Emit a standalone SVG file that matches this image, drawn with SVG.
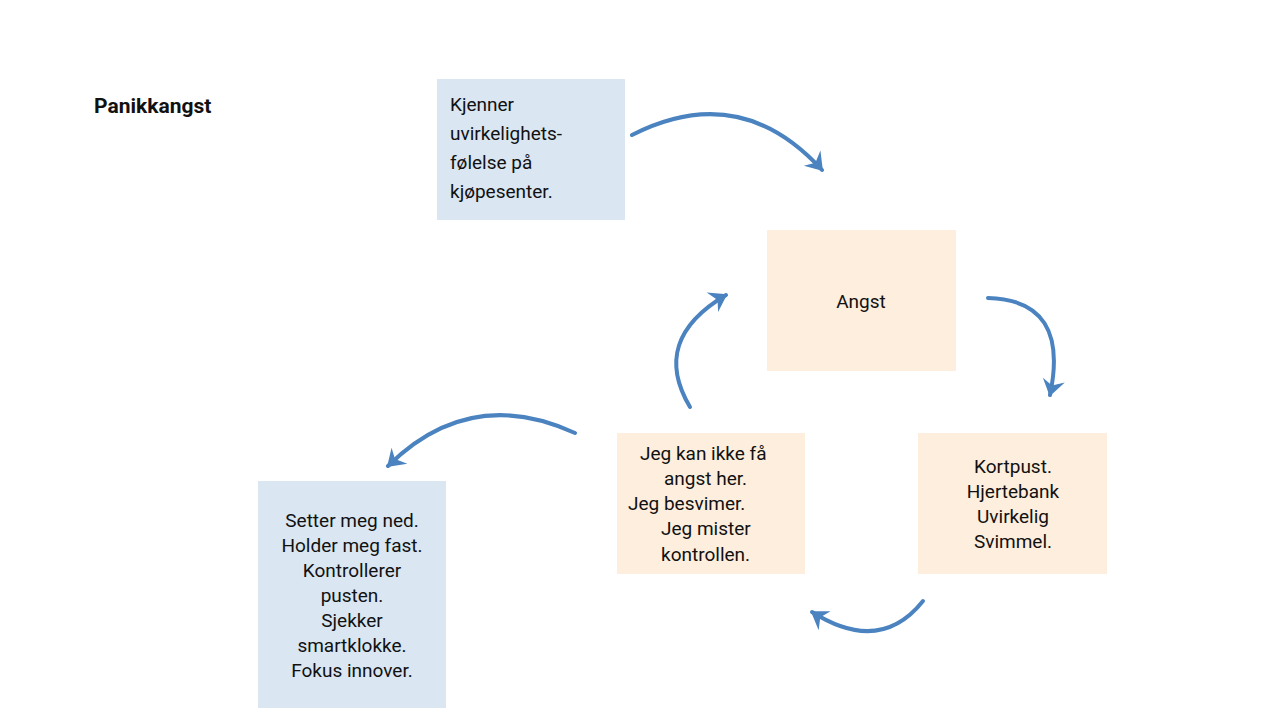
<svg xmlns="http://www.w3.org/2000/svg" width="1280" height="720" viewBox="0 0 1280 720">
<style>
text{font-family:Roboto,"Liberation Sans",sans-serif;font-size:19px;fill:#111}
.b{fill:#dae6f2}.o{fill:#fdeedd}
.c path{fill:none;stroke:#4a83bf;stroke-width:4;stroke-linecap:round}
</style>
<defs><marker id="a" viewBox="0 0 10 10" refX="8" refY="5" markerWidth="7" markerHeight="7" orient="auto" markerUnits="userSpaceOnUse" style="overflow:visible"><path d="M-14,-12 L10,5 L-14,20 L-6,5 Z" fill="#4a83bf" transform="scale(1)"/></marker></defs>
<rect width="1280" height="720" fill="#fff"/>
<text x="94" y="113" style="font-weight:bold;font-size:21px">Panikkangst</text>
<g id="n1"><rect class="b" x="437" y="79" width="188" height="141"/>
<text x="450" y="111">Kjenner</text><text x="450" y="140">uvirkelighets-</text><text x="450" y="169">følelse på</text><text x="450" y="198">kjøpesenter.</text></g>
<g id="n2"><rect class="o" x="767" y="230" width="189" height="141"/><text x="861" y="308" text-anchor="middle">Angst</text></g>
<g id="n3"><rect class="o" x="918" y="433" width="189" height="141"/>
<g text-anchor="middle"><text x="1013" y="473">Kortpust.</text><text x="1013" y="498">Hjertebank</text><text x="1013" y="523">Uvirkelig</text><text x="1013" y="548">Svimmel.</text></g></g>
<g id="n4"><rect class="o" x="617" y="433" width="188" height="141"/>
<text x="640" y="460">Jeg kan ikke få</text><text x="664" y="485">angst her.</text><text x="628" y="510">Jeg besvimer.</text><text x="661" y="535">Jeg mister</text><text x="661" y="561">kontrollen.</text></g>
<g id="n5"><rect class="b" x="258" y="481" width="188" height="227"/>
<g text-anchor="middle"><text x="352" y="527">Setter meg ned.</text><text x="352" y="552">Holder meg fast.</text><text x="352" y="577">Kontrollerer</text><text x="352" y="602">pusten.</text><text x="352" y="627">Sjekker</text><text x="352" y="652">smartklokke.</text><text x="352" y="677">Fokus innover.</text></g></g>
<g class="c">
<path d="M632,135 Q740,80 822,170" marker-end="url(#a)"/>
<path d="M988,298 Q1070,300 1050,395" marker-end="url(#a)"/>
<path d="M923,601 Q880,655 812,612" marker-end="url(#a)"/>
<path d="M690,407 Q650,340 726,295" marker-end="url(#a)"/>
<path d="M575,433 Q470,385 388,466" marker-end="url(#a)"/>
</g>
</svg>
